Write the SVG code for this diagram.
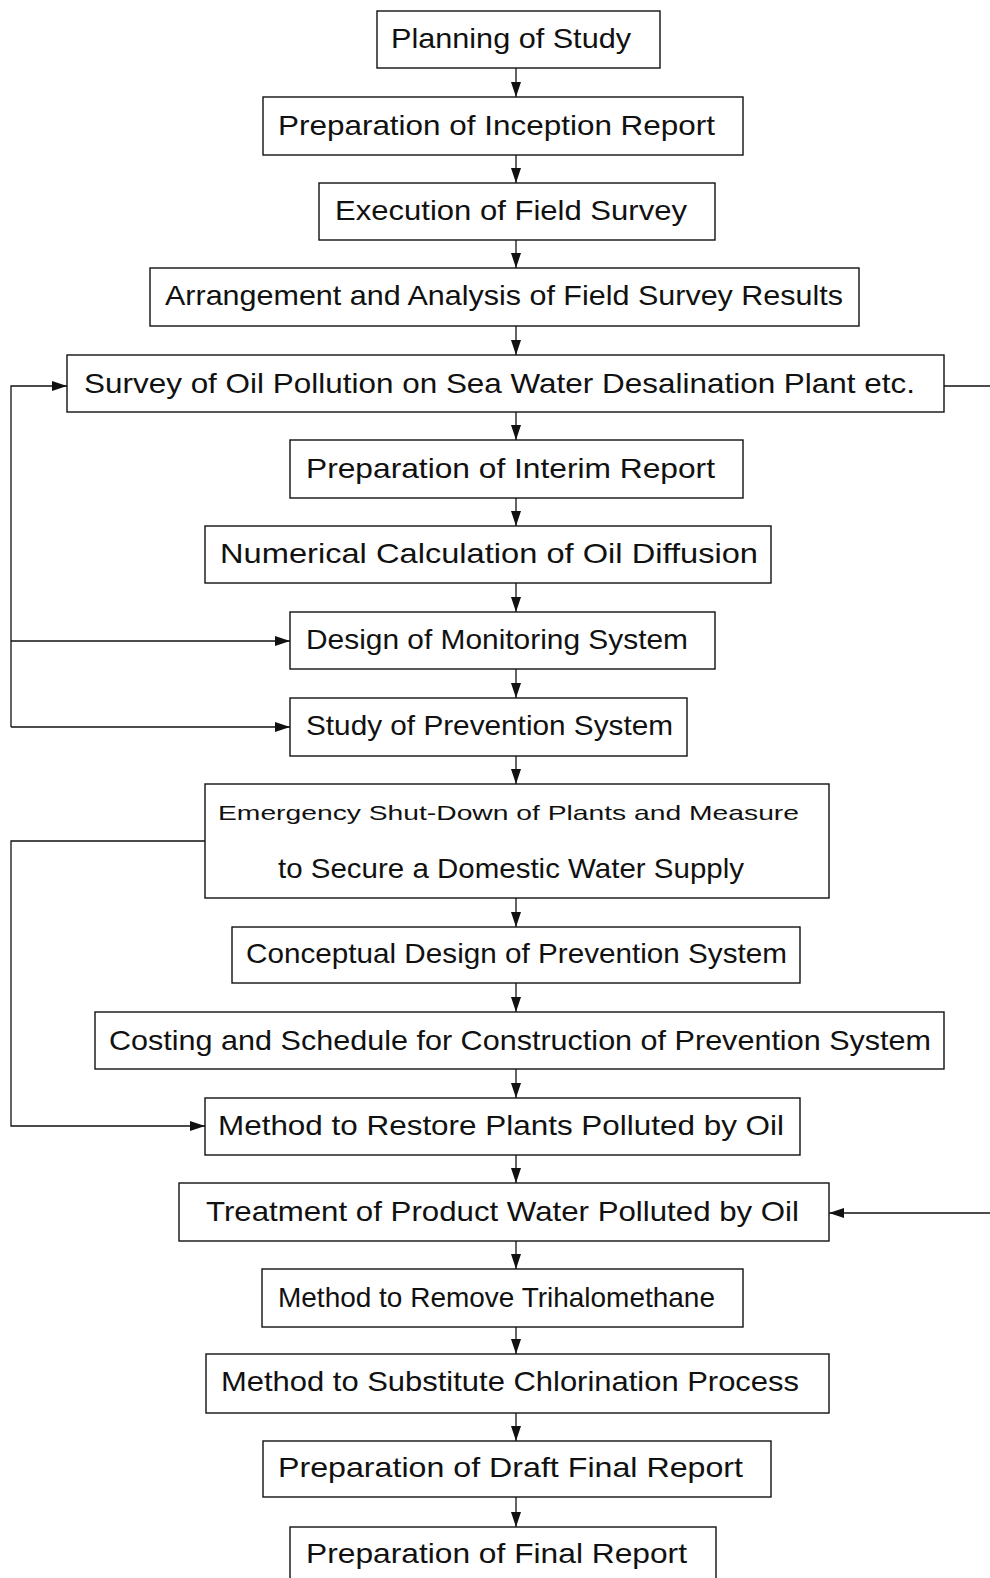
<svg xmlns="http://www.w3.org/2000/svg" width="990" height="1578" viewBox="0 0 990 1578">
<style>
.box{fill:#fff;stroke:#111;stroke-width:1.4}
.t{font-family:"Liberation Sans",Arial,sans-serif;font-size:28px;fill:#111}
.s{font-family:"Liberation Sans",Arial,sans-serif;font-size:21px;fill:#111}
.c{fill:none;stroke:#111;stroke-width:1.3}
</style>
<defs>
<marker id="ah" markerUnits="userSpaceOnUse" markerWidth="16" markerHeight="12" refX="15" refY="5" orient="auto">
<path d="M0,0 L15,5 L0,10 z" fill="#111"/>
</marker>
</defs>
<rect width="990" height="1578" fill="#fff"/>
<g id="connectors">
<line class="c" x1="516" y1="68" x2="516" y2="97" marker-end="url(#ah)"/>
<line class="c" x1="516" y1="155" x2="516" y2="183" marker-end="url(#ah)"/>
<line class="c" x1="516" y1="240" x2="516" y2="268" marker-end="url(#ah)"/>
<line class="c" x1="516" y1="326" x2="516" y2="355" marker-end="url(#ah)"/>
<line class="c" x1="516" y1="412" x2="516" y2="440" marker-end="url(#ah)"/>
<line class="c" x1="516" y1="498" x2="516" y2="526" marker-end="url(#ah)"/>
<line class="c" x1="516" y1="583" x2="516" y2="612" marker-end="url(#ah)"/>
<line class="c" x1="516" y1="669" x2="516" y2="698" marker-end="url(#ah)"/>
<line class="c" x1="516" y1="756" x2="516" y2="784" marker-end="url(#ah)"/>
<line class="c" x1="516" y1="898" x2="516" y2="927" marker-end="url(#ah)"/>
<line class="c" x1="516" y1="983" x2="516" y2="1012" marker-end="url(#ah)"/>
<line class="c" x1="516" y1="1069" x2="516" y2="1098" marker-end="url(#ah)"/>
<line class="c" x1="516" y1="1155" x2="516" y2="1183" marker-end="url(#ah)"/>
<line class="c" x1="516" y1="1241" x2="516" y2="1269" marker-end="url(#ah)"/>
<line class="c" x1="516" y1="1327" x2="516" y2="1354" marker-end="url(#ah)"/>
<line class="c" x1="516" y1="1413" x2="516" y2="1441" marker-end="url(#ah)"/>
<line class="c" x1="516" y1="1497" x2="516" y2="1527" marker-end="url(#ah)"/>
<polyline class="c" points="11,727 11,386 67,386" marker-end="url(#ah)"/>
<line class="c" x1="11" y1="641" x2="290" y2="641" marker-end="url(#ah)"/>
<line class="c" x1="11" y1="727" x2="290" y2="727" marker-end="url(#ah)"/>
<polyline class="c" points="205,841 11,841 11,1126 205,1126" marker-end="url(#ah)"/>
<line class="c" x1="944" y1="386" x2="990" y2="386"/>
<line class="c" x1="990" y1="1213" x2="829" y2="1213" marker-end="url(#ah)"/>
</g>
<g id="n1"><rect class="box" x="377" y="11" width="283" height="57"/><text class="t" x="391" y="48" textLength="240" lengthAdjust="spacingAndGlyphs">Planning of Study</text></g>
<g id="n2"><rect class="box" x="263" y="97" width="480" height="58"/><text class="t" x="278" y="135" textLength="437" lengthAdjust="spacingAndGlyphs">Preparation of Inception Report</text></g>
<g id="n3"><rect class="box" x="319" y="183" width="396" height="57"/><text class="t" x="335" y="220" textLength="352" lengthAdjust="spacingAndGlyphs">Execution of Field Survey</text></g>
<g id="n4"><rect class="box" x="150" y="268" width="709" height="58"/><text class="t" x="165" y="305" textLength="678" lengthAdjust="spacingAndGlyphs">Arrangement and Analysis of Field Survey Results</text></g>
<g id="n5"><rect class="box" x="67" y="355" width="877" height="57"/><text class="t" x="84" y="393" textLength="831" lengthAdjust="spacingAndGlyphs">Survey of Oil Pollution on Sea Water Desalination Plant etc.</text></g>
<g id="n6"><rect class="box" x="290" y="440" width="453" height="58"/><text class="t" x="306" y="478" textLength="409" lengthAdjust="spacingAndGlyphs">Preparation of Interim Report</text></g>
<g id="n7"><rect class="box" x="205" y="526" width="566" height="57"/><text class="t" x="220" y="563" textLength="538" lengthAdjust="spacingAndGlyphs">Numerical Calculation of Oil Diffusion</text></g>
<g id="n8"><rect class="box" x="290" y="612" width="425" height="57"/><text class="t" x="306" y="649" textLength="382" lengthAdjust="spacingAndGlyphs">Design of Monitoring System</text></g>
<g id="n9"><rect class="box" x="290" y="698" width="397" height="58"/><text class="t" x="306" y="735" textLength="367" lengthAdjust="spacingAndGlyphs">Study of Prevention System</text></g>
<g id="n10"><rect class="box" x="205" y="784" width="624" height="114"/><text class="s" x="218" y="820" textLength="581" lengthAdjust="spacingAndGlyphs">Emergency Shut-Down of Plants and Measure</text><text class="t" x="278" y="878" textLength="466" lengthAdjust="spacingAndGlyphs">to Secure a Domestic Water Supply</text></g>
<g id="n11"><rect class="box" x="232" y="927" width="568" height="56"/><text class="t" x="246" y="963" textLength="541" lengthAdjust="spacingAndGlyphs">Conceptual Design of Prevention System</text></g>
<g id="n12"><rect class="box" x="95" y="1012" width="849" height="57"/><text class="t" x="109" y="1050" textLength="822" lengthAdjust="spacingAndGlyphs">Costing and Schedule for Construction of Prevention System</text></g>
<g id="n13"><rect class="box" x="205" y="1098" width="595" height="57"/><text class="t" x="218" y="1135" textLength="566" lengthAdjust="spacingAndGlyphs">Method to Restore Plants Polluted by Oil</text></g>
<g id="n14"><rect class="box" x="179" y="1183" width="650" height="58"/><text class="t" x="206" y="1221" textLength="593" lengthAdjust="spacingAndGlyphs">Treatment of Product Water Polluted by Oil</text></g>
<g id="n15"><rect class="box" x="262" y="1269" width="481" height="58"/><text class="t" x="278" y="1307" textLength="437" lengthAdjust="spacingAndGlyphs">Method to Remove Trihalomethane</text></g>
<g id="n16"><rect class="box" x="206" y="1354" width="623" height="59"/><text class="t" x="221" y="1391" textLength="578" lengthAdjust="spacingAndGlyphs">Method to Substitute Chlorination Process</text></g>
<g id="n17"><rect class="box" x="263" y="1441" width="508" height="56"/><text class="t" x="278" y="1477" textLength="465" lengthAdjust="spacingAndGlyphs">Preparation of Draft Final Report</text></g>
<g id="n18"><rect class="box" x="290" y="1527" width="426" height="70"/><text class="t" x="306" y="1563" textLength="381" lengthAdjust="spacingAndGlyphs">Preparation of Final Report</text></g>
</svg>
